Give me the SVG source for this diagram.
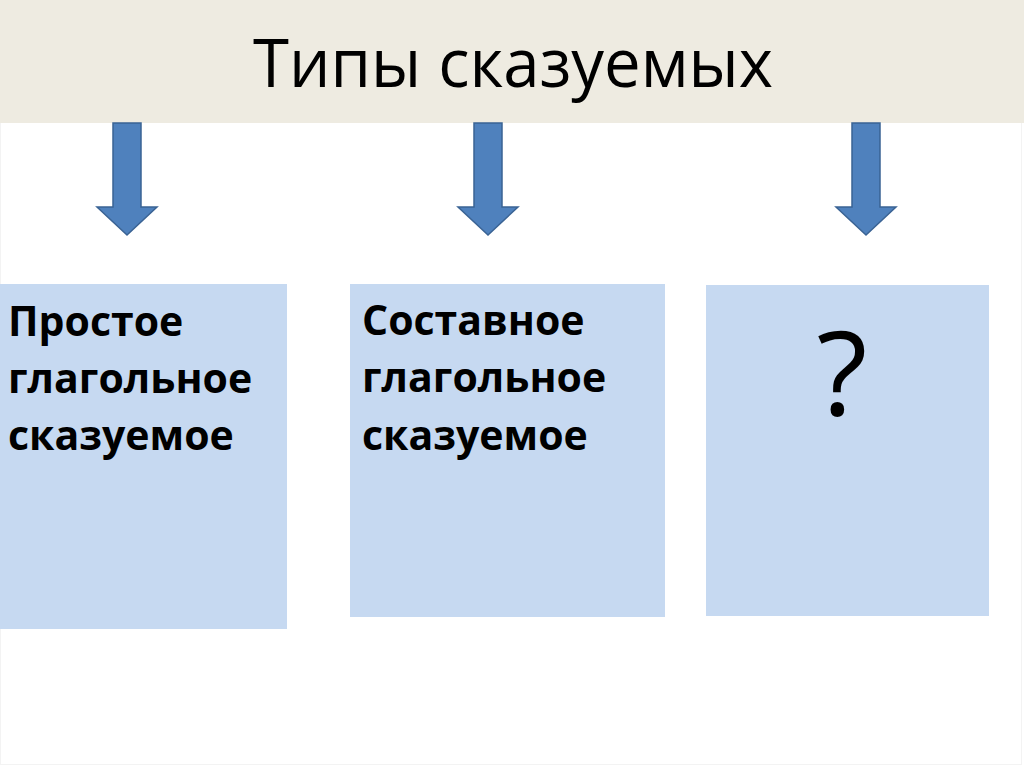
<svg xmlns="http://www.w3.org/2000/svg" width="1024" height="767" viewBox="0 0 1024 767">
  <style>
    .box { fill: #C6D9F1; }
    .arrow { fill: #4F81BD; stroke: #3A6394; stroke-width: 1.5; stroke-linejoin: miter; }
    .lbl { font-family: "Open Sans", "Liberation Sans", sans-serif; font-weight: bold; font-size: 41px; fill: #000; }
    .title { font-family: "Open Sans", "Liberation Sans", sans-serif; font-size: 68px; fill: #000; }
    .q { font-family: "Open Sans", "Liberation Sans", sans-serif; font-size: 118px; fill: #000; }
  </style>
  <defs>
    <path id="downArrow" d="M -14 0 L 14 0 L 14 84 L 30 84 L 0 112 L -30 84 L -14 84 Z"/>
  </defs>
  <rect x="0" y="0" width="1024" height="767" fill="#FFFFFF"/>
  <rect x="0.5" y="0.5" width="1021" height="764" fill="none" stroke="#F3F3F3" stroke-width="1"/>
  <g id="header">
    <rect x="0" y="0" width="1024" height="123" fill="#EEEBE1"/>
    <text class="title" x="513" y="87" text-anchor="middle" textLength="520" lengthAdjust="spacingAndGlyphs">Типы сказуемых</text>
  </g>
  <g id="connectors">
    <use href="#downArrow" class="arrow" x="127" y="123"/>
    <use href="#downArrow" class="arrow" x="488" y="123"/>
    <use href="#downArrow" class="arrow" x="866" y="123"/>
  </g>
  <g id="node-simple">
    <rect class="box" x="0" y="284" width="287" height="345"/>
    <text class="lbl" x="8" y="336">Простое</text>
    <text class="lbl" x="8" y="393">глагольное</text>
    <text class="lbl" x="8" y="450">сказуемое</text>
  </g>
  <g id="node-compound">
    <rect class="box" x="350" y="284" width="315" height="333"/>
    <text class="lbl" x="362" y="335">Составное</text>
    <text class="lbl" x="362" y="392">глагольное</text>
    <text class="lbl" x="362" y="450">сказуемое</text>
  </g>
  <g id="node-unknown">
    <rect class="box" x="706" y="285" width="283" height="331"/>
    <text class="q" x="842" y="415" text-anchor="middle">?</text>
  </g>
</svg>
